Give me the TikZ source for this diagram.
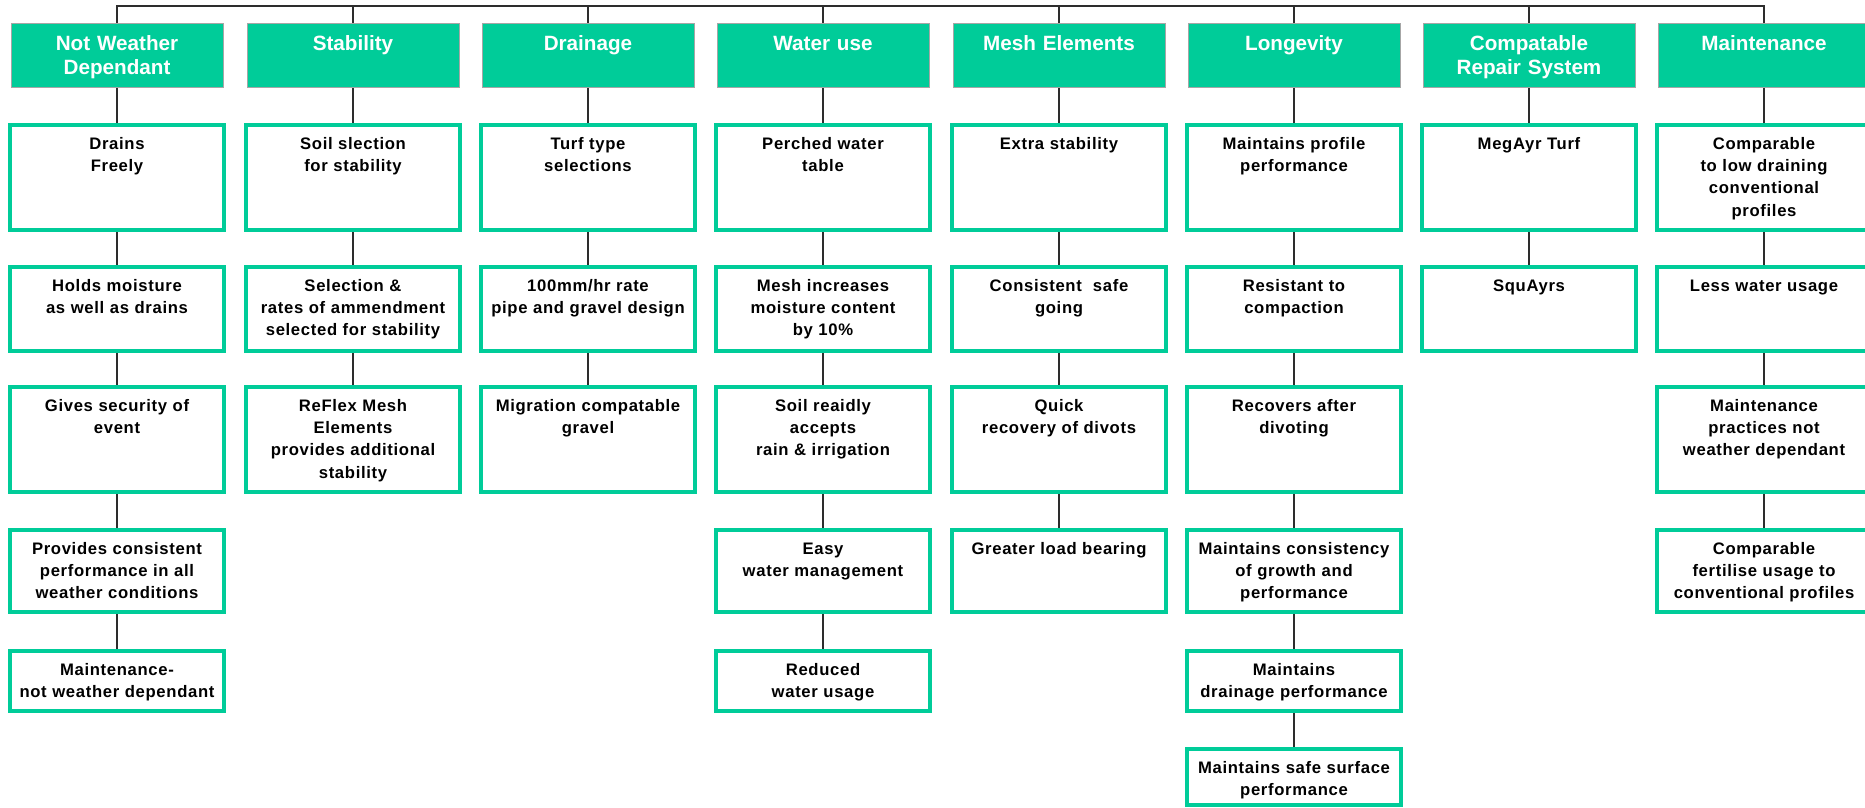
\documentclass[tikz,border=0pt]{standalone}
\usepackage{fontspec}
\setmainfont{Liberation Sans}
\newfontfamily\cellfont{Liberation Sans}[LetterSpace=4]
\usetikzlibrary{backgrounds}
\definecolor{mint}{RGB}{0,204,153}
\definecolor{wire}{RGB}{45,45,45}
\tikzset{
    head/.style = {draw=gray!70, line width=0.75pt, fill=mint, text=white, inner sep=0pt,
        text width=159pt, align=center, anchor=north, text height=20.25pt, text depth=27.75pt,
        font=\fontsize{15.5}{18}\selectfont\bfseries},
    item/.style = {draw=mint, line width=3pt, fill=white, inner sep=0pt,
        text width=160.5pt, align=center, anchor=north, text height=18pt, text depth=#1,
        font=\cellfont\fontsize{12.5}{16.8}\selectfont\bfseries},
    link/.style = {draw=wire, line width=0.8pt}
}

\begin{document}
\begin{tikzpicture}[x=0.75pt, y=-0.75pt]
    \useasboundingbox (0,0) rectangle (1865,807);
    \coordinate (bus) at (0,6);

    % headings
    \node[head] (h1) at (117,23)  {Not Weather\\Dependant};
    \node[head] (h2) at (353,23)  {Stability};
    \node[head] (h3) at (588,23)  {Drainage};
    \node[head] (h4) at (823,23)  {Water use};
    \node[head] (h5) at (1059,23) {Mesh Elements};
    \node[head] (h6) at (1294,23) {Longevity};
    \node[head] (h7) at (1529,23) {Compatable\\Repair System};
    \node[head] (h8) at (1764,23) {Maintenance};

    % not weather dependant
    \node[item=60.75pt] (a1) at (117,123) {Drains\\Freely};
    \node[item=45pt]    (a2) at (117,265) {Holds moisture\\as well as drains};
    \node[item=60.75pt] (a3) at (117,385) {Gives security of\\event};
    \node[item=43.5pt]  (a4) at (117,528) {Provides consistent\\performance in all\\weather conditions};
    \node[item=27pt]    (a5) at (117,649) {Maintenance-\\not weather dependant};

    % stability
    \node[item=60.75pt] (b1) at (353,123) {Soil slection\\for stability};
    \node[item=45pt]    (b2) at (353,265) {Selection \&\\rates of ammendment\\selected for stability};
    \node[item=60.75pt] (b3) at (353,385) {ReFlex Mesh\\Elements\\provides additional\\stability};

    % drainage
    \node[item=60.75pt] (c1) at (588,123) {Turf type\\selections};
    \node[item=45pt]    (c2) at (588,265) {100mm/hr rate\\pipe and gravel design};
    \node[item=60.75pt] (c3) at (588,385) {Migration compatable\\gravel};

    % water use
    \node[item=60.75pt] (d1) at (823,123) {Perched water\\table};
    \node[item=45pt]    (d2) at (823,265) {Mesh increases\\moisture content\\by 10\%};
    \node[item=60.75pt] (d3) at (823,385) {Soil reaidly\\accepts\\rain \& irrigation};
    \node[item=43.5pt]  (d4) at (823,528) {Easy\\water management};
    \node[item=27pt]    (d5) at (823,649) {Reduced\\water usage};

    % mesh elements
    \node[item=60.75pt] (e1) at (1059,123) {Extra stability};
    \node[item=45pt]    (e2) at (1059,265) {Consistent\ \ safe\\going};
    \node[item=60.75pt] (e3) at (1059,385) {Quick\\recovery of divots};
    \node[item=43.5pt]  (e4) at (1059,528) {Greater load bearing};

    % longevity
    \node[item=60.75pt] (f1) at (1294,123) {Maintains profile\\performance};
    \node[item=45pt]    (f2) at (1294,265) {Resistant to\\compaction};
    \node[item=60.75pt] (f3) at (1294,385) {Recovers after\\divoting};
    \node[item=43.5pt]  (f4) at (1294,528) {Maintains consistency\\of growth and\\performance};
    \node[item=27pt]    (f5) at (1294,649) {Maintains\\drainage performance};
    \node[item=24pt]    (f6) at (1294,747) {Maintains safe surface\\performance};

    % repair system
    \node[item=60.75pt] (g1) at (1529,123) {MegAyr Turf};
    \node[item=45pt]    (g2) at (1529,265) {SquAyrs};

    % maintenance
    \node[item=60.75pt] (k1) at (1764,123) {Comparable\\to low draining\\conventional\\profiles};
    \node[item=45pt]    (k2) at (1764,265) {Less water usage};
    \node[item=60.75pt] (k3) at (1764,385) {Maintenance\\practices not\\weather dependant};
    \node[item=43.5pt]  (k4) at (1764,528) {Comparable\\fertilise usage to\\conventional profiles};

    \begin{scope}[on background layer]
        \draw[link] (h1.north) -- (h1.north |- bus) -- (h8.north |- bus) -- (h8.north);
        \draw[link] (h2.north) -- (h2.north |- bus) (h3.north) -- (h3.north |- bus)
                    (h4.north) -- (h4.north |- bus) (h5.north) -- (h5.north |- bus)
                    (h6.north) -- (h6.north |- bus) (h7.north) -- (h7.north |- bus);
        \draw[link] (h1) -- (a1) -- (a2) -- (a3) -- (a4) -- (a5);
        \draw[link] (h2) -- (b1) -- (b2) -- (b3);
        \draw[link] (h3) -- (c1) -- (c2) -- (c3);
        \draw[link] (h4) -- (d1) -- (d2) -- (d3) -- (d4) -- (d5);
        \draw[link] (h5) -- (e1) -- (e2) -- (e3) -- (e4);
        \draw[link] (h6) -- (f1) -- (f2) -- (f3) -- (f4) -- (f5) -- (f6);
        \draw[link] (h7) -- (g1) -- (g2);
        \draw[link] (h8) -- (k1) -- (k2) -- (k3) -- (k4);
    \end{scope}
\end{tikzpicture}
\end{document}
